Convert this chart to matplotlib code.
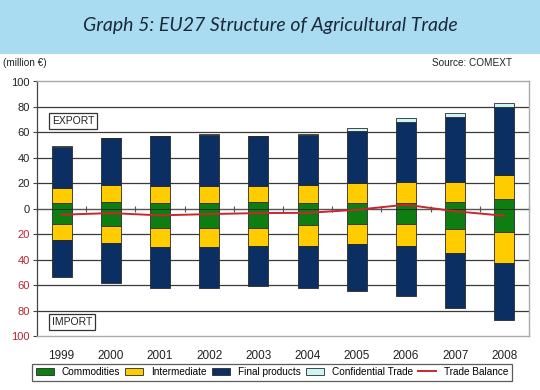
import matplotlib
matplotlib.use("Agg")
import matplotlib.pyplot as plt
from matplotlib.patches import Rectangle
import numpy as np

years = ["1999", "2000", "2001", "2002", "2003", "2004", "2005", "2006", "2007", "2008"]
# Export side (positive), million EUR (as labelled)
exp_commodities = [4.2, 5.3, 4.2, 4.2, 5.3, 4.2, 4.4, 4.7, 5.5, 7.9]
exp_intermediate = [11.8, 13.1, 13.6, 13.6, 12.7, 14.2, 15.6, 16.5, 15.7, 18.3]
exp_final = [32.7, 36.9, 39.1, 40.4, 38.9, 39.3, 41.3, 47.2, 51.1, 53.5]
exp_confidential = [0.5, 0.5, 0.5, 0.5, 0.5, 1.0, 2.1, 3.1, 3.1, 3.3]
# Import side (shown below zero)
imp_commodities = [12.3, 13.4, 14.9, 15.5, 14.9, 13.1, 12.1, 11.6, 15.7, 18.1]
imp_intermediate = [12.4, 13.6, 15.0, 14.9, 14.4, 16.2, 15.7, 17.7, 18.9, 24.7]
imp_final = [29.0, 31.5, 32.1, 31.6, 31.2, 32.7, 36.9, 39.4, 43.5, 45.0]
trade_balance = [-4.7, -3.4, -5.2, -4.2, -3.4, -3.2, -0.8, 3.2, -2.0, -5.5]
y_ticks = [100, 80, 60, 40, 20, 0, -20, -40, -60, -80, -100]

c_com = "#0E7D12"
c_int = "#FFCC00"
c_fin = "#0B2E63"
c_conf = "#CCF6F4"
c_bal = "#C8272F"
edge = "#2a2a2a"

fig = plt.figure(figsize=(5.4, 3.9), dpi=100)
fig.patch.set_facecolor("white")

# title banner
fig.patches.append(Rectangle((0, 1 - 54 / 390), 1, 54 / 390, transform=fig.transFigure,
                             facecolor="#A9DCF1", edgecolor="none", zorder=0))
fig.text(0.5, 1 - 25 / 390, "Graph 5: EU27 Structure of Agricultural Trade", ha="center", va="center",
         fontsize=14, style="italic", family="Lato", color="#1B2A3A")
fig.text(3 / 540, 1 - 63 / 390, "(million \u20ac)", ha="left", va="center", fontsize=7.2,
         family="Liberation Sans", color="#222222")
fig.text(512 / 540, 1 - 63 / 390, "Source: COMEXT", ha="right", va="center", fontsize=7.2,
         family="Liberation Sans", color="#222222")

ax = fig.add_axes([37 / 540, 1 - 336 / 390, 492 / 540, 254.5 / 390])
x = np.arange(len(years))
w = 0.41

ec = np.array(exp_commodities)
ei = np.array(exp_intermediate)
ef = np.array(exp_final)
eo = np.array(exp_confidential)
ic = np.array(imp_commodities)
ii = np.array(imp_intermediate)
iff = np.array(imp_final)

kw = dict(width=w, edgecolor=edge, linewidth=0.6, zorder=3)
b1 = ax.bar(x, ec, color=c_com, label="Commodities", **kw)
b2 = ax.bar(x, ei, bottom=ec, color=c_int, label="Intermediate", **kw)
b3 = ax.bar(x, ef, bottom=ec + ei, color=c_fin, label="Final products", **kw)
b4 = ax.bar(x, eo, bottom=ec + ei + ef, color=c_conf, label="Confidential Trade", **kw)
ax.bar(x, -ic, color=c_com, **kw)
ax.bar(x, -ii, bottom=-ic, color=c_int, **kw)
ax.bar(x, -iff, bottom=-ic - ii, color=c_fin, **kw)
l1, = ax.plot(x, trade_balance, color=c_bal, linewidth=1.4, zorder=4, label="Trade Balance")

ax.set_xlim(-0.5, len(years) - 0.5)
ax.set_ylim(-100, 100)
ax.set_yticks(y_ticks)
ax.set_yticklabels([str(abs(v)) for v in y_ticks], fontsize=8, family="Liberation Sans")
for lab, v in zip(ax.get_yticklabels(), y_ticks):
    lab.set_color("#B3262E" if v < 0 else "#222222")
ax.tick_params(axis="y", length=3, width=0.8, color="#444444", pad=2)
for v in y_ticks:
    if v not in (100, -100, 0):
        ax.axhline(v, color="#3a3a3a", linewidth=0.9, zorder=1)
ax.axhline(0, color="#555555", linewidth=0.9, zorder=2)

ax.set_xticks(x)
ax.set_xticklabels(years, fontsize=8.5, family="Liberation Sans", color="#222222")
ax.tick_params(axis="x", length=0, pad=10)

sec = ax.secondary_xaxis(0.5)
sec.set_xticks(np.arange(len(years) + 1) - 0.5)
sec.set_xticklabels([])
sec.tick_params(axis="x", direction="inout", length=5, width=0.8, color="#555555")
sec.spines["bottom"].set_visible(False)

for s in ["top", "right", "bottom"]:
    ax.spines[s].set_color("#AAAAAA")
    ax.spines[s].set_linewidth(1.0)
ax.spines["left"].set_color("#444444")
ax.spines["left"].set_linewidth(0.9)

ax.text(-0.2, 69, "EXPORT", ha="left", va="center", fontsize=7.5, family="Liberation Sans",
        color="#222222", zorder=5,
        bbox=dict(boxstyle="square,pad=0.25", facecolor="white", edgecolor="#333333", linewidth=0.9))
ax.text(-0.2, -89, "IMPORT", ha="left", va="center", fontsize=7.5, family="Liberation Sans",
        color="#222222", zorder=5,
        bbox=dict(boxstyle="square,pad=0.25", facecolor="white", edgecolor="#333333", linewidth=0.9))

leg = fig.legend(handles=[b1, b2, b3, b4, l1], loc="center", bbox_to_anchor=(272 / 540, 1 - 372 / 390),
                 ncol=5, frameon=True, fancybox=False, handlelength=1.8, handleheight=0.8,
                 columnspacing=0.5, handletextpad=0.8, borderpad=0.35,
                 prop={"family": "Liberation Sans", "size": 7.2})
leg.get_frame().set_edgecolor("#333333")
leg.get_frame().set_linewidth(0.9)

fig.savefig("out.png", dpi=100)
